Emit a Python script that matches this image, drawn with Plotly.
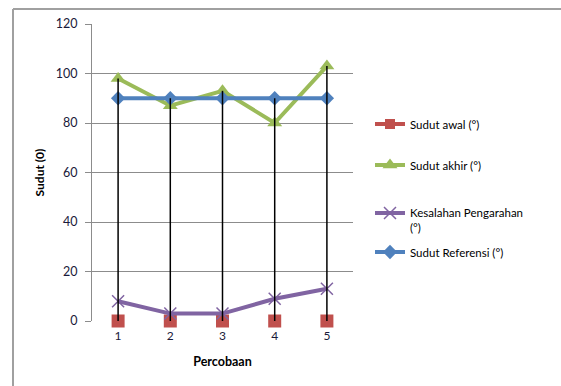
import plotly.graph_objects as go

categories = [1, 2, 3, 4, 5]
sudut_awal = [0, 0, 0, 0, 0]
sudut_akhir = [98, 87, 93, 80, 103]
kesalahan = [8, 3, 3, 9, 13]
referensi = [90, 90, 90, 90, 90]

names = ["Sudut awal (°)", "Sudut akhir (°)", "Kesalahan Pengarahan<br>(°)", "Sudut Referensi (°)"]
colors = ["#C0504D", "#9BBB59", "#8064A2", "#4F81BD"]

FONT = "Lato, sans-serif"

fig = go.Figure()

# high-low lines
all_series = [sudut_awal, sudut_akhir, kesalahan, referensi]
hx, hy = [], []
for i, c in enumerate(categories):
    vals = [s[i] for s in all_series]
    hx += [c, c, None]
    hy += [max(vals), min(vals), None]

fig.add_trace(go.Scatter(x=categories, y=sudut_awal, mode="markers", showlegend=False,
                         marker=dict(symbol="square", size=13, color=colors[0]), cliponaxis=False))
fig.add_trace(go.Scatter(x=categories, y=sudut_akhir, mode="lines+markers", name=names[1],
                         legend="legend2",
                         line=dict(color=colors[1], width=4),
                         marker=dict(symbol="triangle-up", size=13, color=colors[1])))
fig.add_trace(go.Scatter(x=categories, y=kesalahan, mode="lines+markers", name=names[2],
                         legend="legend3",
                         line=dict(color=colors[2], width=4),
                         marker=dict(symbol="x-thin-open", size=12, line=dict(color=colors[2], width=1.5)),
                         cliponaxis=False))
fig.add_trace(go.Scatter(x=categories, y=referensi, mode="lines+markers", name=names[3],
                         legend="legend4",
                         line=dict(color=colors[3], width=4),
                         marker=dict(symbol="diamond", size=11, color=colors[3])))
fig.add_trace(go.Scatter(x=hx, y=hy, mode="lines", showlegend=False,
                         line=dict(color="black", width=1.5), hoverinfo="skip"))
fig.add_trace(go.Scatter(x=[None], y=[None], mode="lines+markers", name=names[0],
                         legend="legend",
                         line=dict(color=colors[0], width=4),
                         marker=dict(symbol="square", size=10, color=colors[0])))

L, R, T, B = 92, 353, 24, 321
W, H = 561, 386
pw, ph = R - L, B - T

def px2x(px):
    return (px - L) / pw

def py2y(py):
    return (B - py) / ph

def leg(top):
    return dict(xref="container", yref="container", x=370 / W, y=1 - top / H,
                xanchor="left", yanchor="top", valign="top",
                font=dict(size=11.5, color="#000000"), bgcolor="rgba(0,0,0,0)",
                itemwidth=30)

fig.update_layout(
    width=W, height=H,
    margin=dict(l=L, r=W - R, t=T, b=H - B),
    paper_bgcolor="white", plot_bgcolor="white",
    font=dict(family=FONT, size=11, color="#000000"),
    showlegend=True,
    legend=leg(110),
    legend2=leg(151),
    legend3=leg(199),
    legend4=leg(238),
    xaxis=dict(range=[0.5, 5.5], tickvals=categories, ticktext=[str(c) for c in categories],
               showgrid=False, zeroline=False, showline=False, ticks="",
               ticklabelstandoff=6,
               tickfont=dict(size=12, color="#1a1a3a"),
               title=dict(text="<b>Percobaan</b>", font=dict(size=12.5), standoff=15)),
    yaxis=dict(range=[0, 120], dtick=20, showgrid=True, gridcolor="#8C8C8C", gridwidth=1,
               zeroline=False, showline=True, linecolor="#8C8C8C", linewidth=1,
               ticks="outside", ticklen=6, tickcolor="#8C8C8C",
               ticklabelstandoff=5,
               tickfont=dict(size=12.5, color="#1a1a3a"),
               title=dict(text="<b>Sudut (0)</b>", font=dict(size=12), standoff=8)),
    shapes=[
        dict(type="line", xref="paper", yref="paper", x0=px2x(13), x1=px2x(W), y0=py2y(9), y1=py2y(9),
             line=dict(color="#A0A0A0", width=2)),
        dict(type="line", xref="paper", yref="paper", x0=px2x(13), x1=px2x(13), y0=py2y(9), y1=py2y(H),
             line=dict(color="#A0A0A0", width=2)),
    ],
)

fig.write_html("out.html")
